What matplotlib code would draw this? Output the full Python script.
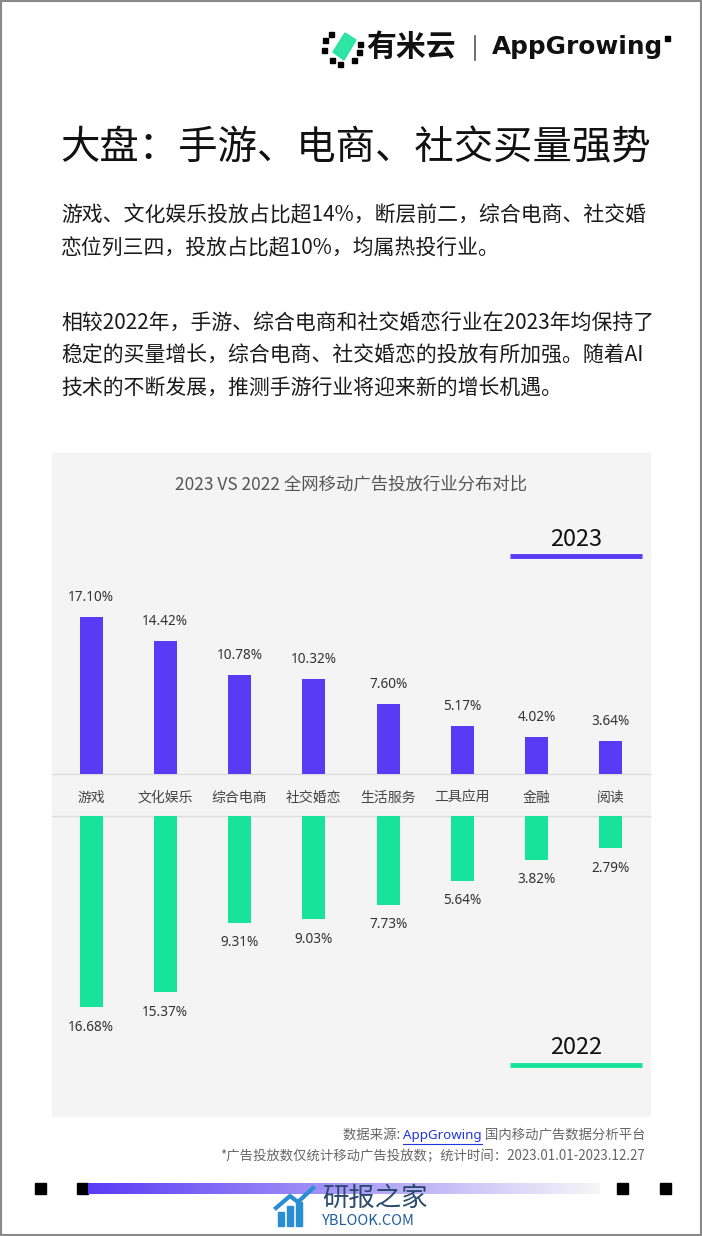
import matplotlib.pyplot as plt
import numpy as np
from matplotlib.patches import Rectangle, Polygon

plt.rcParams['font.family'] = ['Noto Sans CJK SC', 'DejaVu Sans']

# Данные
categories = ['游戏', '文化娱乐', '综合电商', '社交婚恋', '生活服务', '工具应用', '金融', '阅读']
share_2023 = [17.10, 14.42, 10.78, 10.32, 7.60, 5.17, 4.02, 3.64]
share_2022 = [16.68, 15.37, 9.31, 9.03, 7.73, 5.64, 3.82, 2.79]

purple = '#5a3bf5'
green = '#17e39c'

W, H = 702, 1236
fig = plt.figure(figsize=(W / 100, H / 100), dpi=100)
fig.patch.set_facecolor('white')

# Фоновая ось в пикселях
bg = fig.add_axes([0, 0, 1, 1])
bg.set_xlim(0, W)
bg.set_ylim(H, 0)
bg.axis('off')


def px_axes(x0, y0, x1, y1):
    # прямоугольник в пикселях (сверху вниз) -> координаты фигуры
    return fig.add_axes([x0 / W, 1 - y1 / H, (x1 - x0) / W, (y1 - y0) / H])


# Рамка
bg.add_patch(Rectangle((0.5, 0.5), W - 1.5, H - 1.5, fill=False, edgecolor='#8a8a8a', lw=1.5))

# Логотип
bg.add_patch(Polygon([[333, 52], [345, 33], [356, 40], [344, 60]], color=green, alpha=0.9))
for (sx, sy) in [(323, 38), (329, 32), (322, 48), (330, 58), (338, 62), (352, 58), (357, 50), (358, 42)]:
    bg.add_patch(Rectangle((sx, sy), 4.5, 4.5, color='black'))
bg.text(366, 47, '有米云', fontsize=21.5, fontweight='bold', va='center', ha='left', color='#111111')
bg.plot([475, 475], [36, 60], color='#555555', lw=1.2)
bg.text(492, 47, 'AppGrowing', fontsize=17.8, fontweight='bold', va='center', ha='left',
        color='#111111', family=['DejaVu Sans'])
bg.add_patch(Rectangle((665, 36), 5, 5, color='black'))

# Заголовок и текст
bg.text(60, 148, '大盘：手游、电商、社交买量强势', fontsize=28.4, va='center', ha='left', color='#111111')
body = [(215, '游戏、文化娱乐投放占比超14%，断层前二，综合电商、社交婚'),
        (248, '恋位列三四，投放占比超10%，均属热投行业。'),
        (323, '相较2022年，手游、综合电商和社交婚恋行业在2023年均保持了'),
        (356, '稳定的买量增长，综合电商、社交婚恋的投放有所加强。随着AI'),
        (389, '技术的不断发展，推测手游行业将迎来新的增长机遇。')]
for y, s in body:
    bg.text(61, y, s, fontsize=15.0, va='center', ha='left', color='#1a1a1a')

# Серая панель
bg.add_patch(Rectangle((52, 453), 598, 663, color='#f4f4f4', zorder=0))
bg.text(351, 485, '2023 VS 2022 全网移动广告投放行业分布对比', fontsize=12.5,
        va='center', ha='center', color='#555555')

# Легенды-подписи годов
bg.text(576, 540, '2023', fontsize=17, va='center', ha='center', color='#111111')
bg.plot([510, 642], [556, 556], color=purple, lw=3.5, solid_capstyle='butt')
bg.text(576, 1047, '2022', fontsize=17, va='center', ha='center', color='#111111')
bg.plot([510, 642], [1065, 1065], color=green, lw=3.5, solid_capstyle='butt')

# Разделительные линии и категории
bg.plot([52, 650], [774, 774], color='#dcdcdc', lw=1)
bg.plot([52, 650], [816, 816], color='#dcdcdc', lw=1)

x = np.arange(len(categories))
ax_left, ax_right = 53.9, 648.1
num_font = ['Noto Sans', 'DejaVu Sans']

# 2023 — вверх
ax1 = px_axes(ax_left, 560, ax_right, 774)
ax1.bar(x, share_2023, width=0.31, color=purple)
ax1.set_xlim(-0.5, 7.5)
ax1.set_ylim(0, 214 / 9.2)
ax1.axis('off')
for i, v in enumerate(share_2023):
    ax1.annotate(f'{v:.2f}%', (i, v), xytext=(0, 14), textcoords='offset points',
                 ha='center', va='center', fontsize=9.8, color='#333333', family=num_font)

# 2022 — вниз
ax2 = px_axes(ax_left, 816, ax_right, 1090)
ax2.bar(x, share_2022, width=0.31, color=green)
ax2.set_xlim(-0.5, 7.5)
ax2.set_ylim(274 / 11.45, 0)
ax2.axis('off')
for i, v in enumerate(share_2022):
    ax2.annotate(f'{v:.2f}%', (i, v), xytext=(0, -14.5), textcoords='offset points',
                 ha='center', va='center', fontsize=9.8, color='#333333', family=num_font)

# Подписи категорий
for i, c in enumerate(categories):
    cx = ax_left + (i + 0.5) * (ax_right - ax_left) / len(categories)
    bg.text(cx, 798, c, fontsize=10, ha='center', va='center', color='#444444')

# Источник
fig.canvas.draw()
r = fig.canvas.get_renderer()
fs = 9.6
t3 = bg.text(645, 1135, ' 国内移动广告数据分析平台', fontsize=fs, ha='right', va='center', color='#666666')
w3 = t3.get_window_extent(r).width
t2 = bg.text(645 - w3, 1135, 'AppGrowing', fontsize=fs, ha='right', va='center', color='#2136d9',
             family=num_font)
w2 = t2.get_window_extent(r).width
bg.plot([645 - w3 - w2, 645 - w3], [1144, 1144], color='#2136d9', lw=0.8)
bg.text(645 - w3 - w2, 1135, '数据来源: ', fontsize=fs, ha='right', va='center', color='#666666')
bg.text(645, 1156, '*广告投放数仅统计移动广告投放数；统计时间：2023.01.01-2023.12.27',
        fontsize=fs, ha='right', va='center', color='#666666')

# Нижняя полоса с градиентом
for sx in [35, 77, 617, 660]:
    bg.add_patch(Rectangle((sx, 1183), 11, 11, color='black'))
grad = np.linspace(0, 1, 256)
c0 = np.array([0x5a, 0x3b, 0xf5]) / 255
c1 = np.array([0xf6, 0xf6, 0xf8]) / 255
img = (c0[None, :] * (1 - grad[:, None]) + c1[None, :] * grad[:, None])[None, :, :]
bg.imshow(img, extent=(88, 600, 1194, 1183), aspect='auto', zorder=1)
bg.set_xlim(0, W)
bg.set_ylim(H, 0)

# Водяной знак
for k, (bx, bh) in enumerate([(278, 14), (287, 20), (296, 24)]):
    bg.add_patch(Rectangle((bx, 1226 - bh), 6, bh, color='#2a8ed4', zorder=3))
bg.plot([276, 290, 298, 313], [1208, 1196, 1202, 1188], color='#2a8ed4', lw=3, zorder=3)
bg.text(322, 1198, '研报之家', fontsize=19, ha='left', va='center', color='#2a4a6e', zorder=3)
bg.text(322, 1221, 'YBLOOK.COM', fontsize=10.5, ha='left', va='center', color='#1f5da0', zorder=3)

fig.savefig('out.png', dpi=100)
